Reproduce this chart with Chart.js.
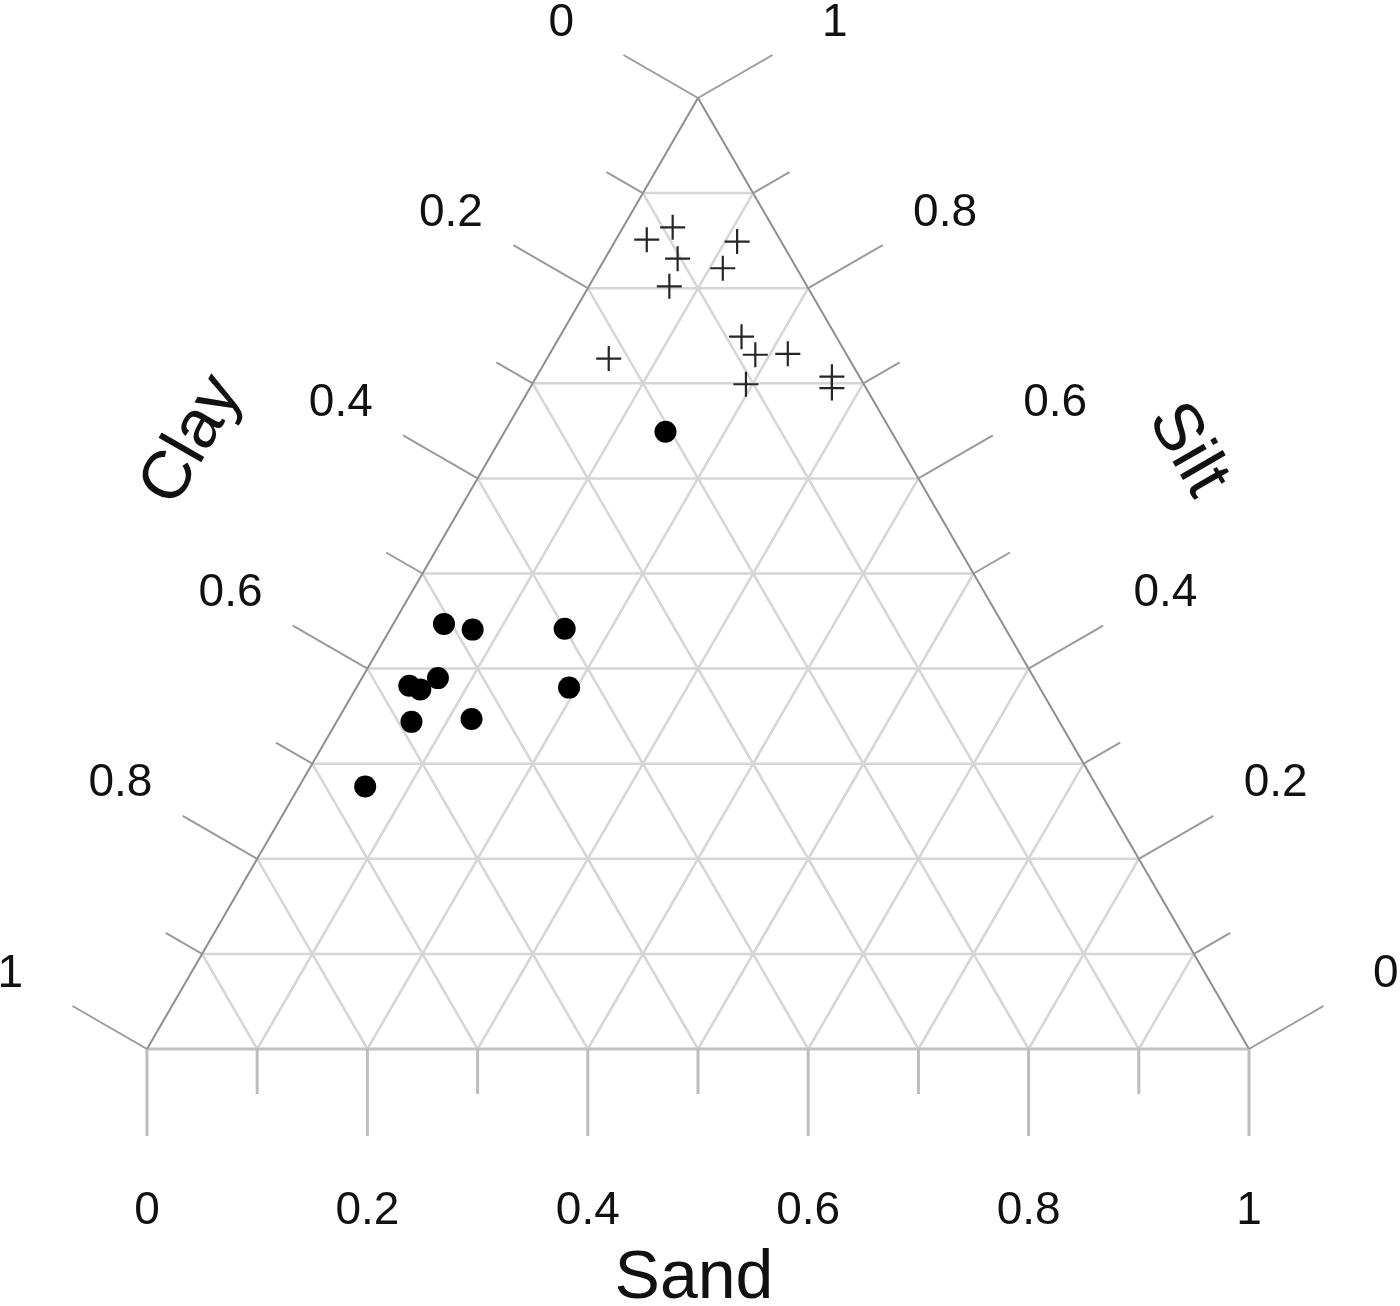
<!DOCTYPE html>
<html>
<head>
<meta charset="utf-8">
<script src="https://cdn.jsdelivr.net/npm/chart.js@4/dist/chart.umd.min.js"></script>
<style>
  html, body { margin: 0; padding: 0; background: #fff; }
  canvas { display: block; }
</style>
</head>
<body>
<canvas id="chartCanvas" width="1400" height="1306"></canvas>
<script>
// Ternary data (fractions)

// group 1: plus signs
var crossSand = [0.045, 0.028, 0.066, 0.073, 0.111, 0.112, 0.165, 0.187, 0.216, 0.056, 0.194, 0.268, 0.274]
var crossSilt = [0.864, 0.851, 0.831, 0.802, 0.849, 0.821, 0.749, 0.730, 0.731, 0.726, 0.699, 0.707, 0.695]
var crossClay = [0.091, 0.121, 0.103, 0.125, 0.040, 0.067, 0.086, 0.083, 0.053, 0.218, 0.107, 0.025, 0.031]

// group 2: filled dots
var dotSand = [0.146, 0.046, 0.075, 0.158, 0.047, 0.059, 0.069, 0.193, 0.068, 0.121, 0.060]
var dotSilt = [0.649, 0.447, 0.441, 0.442, 0.382, 0.378, 0.390, 0.380, 0.344, 0.347, 0.276]
var dotClay = [0.205, 0.507, 0.484, 0.400, 0.571, 0.563, 0.541, 0.427, 0.588, 0.532, 0.664]

// axis ticks
var tickSteps = [0.1, 0.2, 0.3, 0.4, 0.5, 0.6, 0.7, 0.8, 0.9]
var tickAll = [0, 0.1, 0.2, 0.3, 0.4, 0.5, 0.6, 0.7, 0.8, 0.9, 1]
var labelValues = [0, 0.2, 0.4, 0.6, 0.8, 1]
var labelTexts = ['0', '0.2', '0.4', '0.6', '0.8', '1']
var axisTitles = { bottom: 'Sand', right: 'Silt', left: 'Clay' }

// sand/silt -> plane coords (bottom-left = clay corner, top = silt corner)
function toPlane(sand, silt) {
    return { x: sand + silt / 2, y: silt }
}

function buildPoints(sand, silt) {
    var pts = []
    for (var i = 0; i < sand.length; i++) {
        pts.push(toPlane(sand[i], silt[i]))
    }
    return pts
}

var ternaryFrame = {
    id: 'ternaryFrame',
    beforeDatasetsDraw: function(chart) {
        var ctx = chart.ctx
        var xs = chart.scales.x
        var ys = chart.scales.y
        function px(sand, silt) {
            var p = toPlane(sand, silt)
            return [xs.getPixelForValue(p.x), ys.getPixelForValue(p.y)]
        }
        function line(a, b, color, width) {
            ctx.beginPath()
            ctx.moveTo(a[0], a[1])
            ctx.lineTo(b[0], b[1])
            ctx.strokeStyle = color
            ctx.lineWidth = width
            ctx.stroke()
        }
        ctx.save()
        ctx.lineCap = 'butt'

        // grid
        var gridColor = '#d6d6d6'
        tickSteps.forEach(function(v) {
            line(px(0, v), px(1 - v, v), gridColor, 2.5)          // silt const
            line(px(v, 0), px(v, 1 - v), gridColor, 2.5)          // sand const
            line(px(1 - v, 0), px(0, 1 - v), gridColor, 2.5)      // clay const
        })

        // triangle border
        line(px(0, 0), px(1, 0), '#c2c2c2', 3)
        line(px(0, 0), px(0, 1), '#8e8e8e', 2)
        line(px(1, 0), px(0, 1), '#8e8e8e', 2)

        // ticks + labels
        var c = Math.cos(Math.PI / 6), s = 0.5
        var dirLeft = [-c, -s], dirRight = [c, -s]
        ctx.font = '46px "Liberation Sans", Arial, sans-serif'
        ctx.fillStyle = '#111'
        ctx.textAlign = 'center'
        ctx.textBaseline = 'middle'
        var labelDist = 158
        var dy = 4
        tickAll.forEach(function(v) {
            var major = Math.round(v * 10) % 2 === 0
            var bLen = major ? 87 : 45
            var sLen = major ? 86 : 42
            var pb = px(v, 0)                 // sand axis
            line(pb, [pb[0], pb[1] + bLen], '#bdbdbd', 3)
            var pl = px(0, 1 - v)             // clay axis
            line(pl, [pl[0] + dirLeft[0] * sLen, pl[1] + dirLeft[1] * sLen], '#9a9a9a', 2)
            var pr = px(1 - v, v)             // silt axis
            line(pr, [pr[0] + dirRight[0] * sLen, pr[1] + dirRight[1] * sLen], '#9a9a9a', 2)
        })
        labelValues.forEach(function(v, i) {
            var t = labelTexts[i]
            var pb = px(v, 0)
            ctx.fillText(t, pb[0], pb[1] + labelDist + dy)
            var pl = px(0, 1 - v)
            ctx.fillText(t, pl[0] + dirLeft[0] * labelDist, pl[1] + dirLeft[1] * labelDist + dy)
            var pr = px(1 - v, v)
            ctx.fillText(t, pr[0] + dirRight[0] * labelDist, pr[1] + dirRight[1] * labelDist + dy)
        })

        // axis titles
        ctx.font = '68px "Liberation Sans", Arial, sans-serif'
        var mb = px(0.5, 0)
        ctx.textBaseline = 'alphabetic'
        ctx.fillText(axisTitles.bottom, mb[0] - 4, mb[1] + 249)

        ctx.textBaseline = 'middle'
        var ml = px(0, 0.5)
        ctx.save()
        ctx.translate(ml[0] + dirLeft[0] * 266, ml[1] + dirLeft[1] * 266)
        ctx.rotate(-Math.PI / 3)
        ctx.fillText(axisTitles.left, 0, 0)
        ctx.restore()

        var mr = px(0.5, 0.5)
        ctx.save()
        ctx.translate(mr[0] + dirRight[0] * 247, mr[1] + dirRight[1] * 247)
        ctx.rotate(Math.PI / 3)
        ctx.fillText(axisTitles.right, 0, 0)
        ctx.restore()

        ctx.restore()
    }
}

var canvas = document.getElementById('chartCanvas')
var ctx = canvas.getContext('2d')

var myChart = new Chart(ctx, {
    type: 'scatter',
    data: {
        datasets: [{
            label: 'plus',
            data: buildPoints(crossSand, crossSilt),
            pointStyle: 'cross',
            pointRadius: 12.5,
            borderColor: '#262626',
            borderWidth: 2.2,
            backgroundColor: '#262626'
        }, {
            label: 'dot',
            data: buildPoints(dotSand, dotSilt),
            pointStyle: 'circle',
            pointRadius: 11,
            borderWidth: 0,
            backgroundColor: '#000'
        }]
    },
    options: {
        responsive: false,
        animation: false,
        layout: { padding: { left: 147, right: 151, top: 98, bottom: 257 } },
        plugins: { legend: { display: false }, tooltip: { enabled: false } },
        scales: {
            x: { type: 'linear', min: 0, max: 1, display: false },
            y: { type: 'linear', min: 0, max: 1, display: false }
        }
    },
    plugins: [ternaryFrame]
})
</script>
</body>
</html>
